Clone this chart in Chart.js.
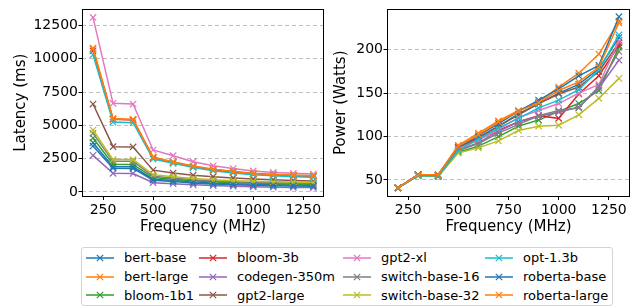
<!DOCTYPE html>
<html>
<head>
<meta charset="utf-8">
<script src="https://cdn.jsdelivr.net/npm/chart.js@4/dist/chart.umd.min.js"></script>
<style>
  body { margin: 0; width: 636px; height: 308px; background: #fff; position: relative; overflow: hidden; font-family: "DejaVu Sans", sans-serif; }
  #grafico-latencia { position: absolute; left: 0; top: 0; }
  #grafico-potencia { position: absolute; left: 330px; top: 0; }
  #legenda { position: absolute; left: 81px; top: 247px; width: 530px; height: 57px; border: 1px solid #d4d4d4; border-radius: 3px; }
  .item { position: absolute; height: 18px; display: flex; align-items: center; font-size: 13px; color: #000; white-space: nowrap; }
  .item svg { margin-right: 10px; }
</style>
</head>
<body>
<canvas id="grafico-latencia" width="330" height="240"></canvas>
<canvas id="grafico-potencia" width="306" height="240"></canvas>
<div id="legenda"></div>
<script>
const frequencias = [200, 300, 400, 500, 600, 700, 800, 900, 1000, 1100, 1200, 1300];
const modelos = ["bert-base", "bert-large", "bloom-1b1", "bloom-3b", "codegen-350m", "gpt2-large",
  "gpt2-xl", "switch-base-16", "switch-base-32", "opt-1.3b", "roberta-base", "roberta-large"];
const cores = ["#1f77b4", "#ff7f0e", "#2ca02c", "#d62728", "#9467bd", "#8c564b",
  "#e377c2", "#7f7f7f", "#bcbd22", "#17becf", "#1f77b4", "#ff7f0e"];

// Latência (ms)
const latBertBase = [3700, 1900, 1890, 960, 860, 760, 680, 620, 570, 540, 520, 500];
const latBertLarge = [10800, 5500, 5450, 2620, 2260, 1950, 1710, 1540, 1400, 1320, 1260, 1220];
const latBloom1b1 = [4050, 2080, 2070, 1080, 960, 840, 760, 700, 650, 620, 600, 580];
const latBloom3b = [10600, 5450, 5400, 2570, 2220, 1900, 1670, 1500, 1360, 1280, 1220, 1180];
const latCodegen = [2750, 1400, 1390, 700, 620, 540, 480, 430, 390, 360, 340, 330];
const latGpt2Large = [6600, 3400, 3380, 1640, 1420, 1260, 1150, 1050, 980, 920, 870, 820];
const latGpt2Xl = [13100, 6650, 6600, 3150, 2720, 2270, 1960, 1760, 1580, 1470, 1400, 1340];
const latSwitch16 = [4400, 2300, 2300, 1180, 1050, 920, 830, 770, 720, 690, 670, 650];
const latSwitch32 = [4650, 2430, 2430, 1300, 1150, 1010, 920, 850, 800, 760, 740, 720];
const latOpt = [10300, 5250, 5200, 2470, 2150, 1830, 1600, 1430, 1300, 1220, 1150, 1100];
const latRobertaBase = [3450, 1780, 1770, 880, 780, 680, 600, 540, 500, 470, 450, 430];
const latRobertaLarge = [10750, 5480, 5430, 2600, 2240, 1930, 1700, 1530, 1390, 1310, 1250, 1210];

// Potência (Watts)
const potBertBase = [41, 56, 55, 86, 98, 112, 126, 138, 150, 160, 178, 214];
const potBertLarge = [41, 56, 56, 90, 104, 118, 130, 140, 157, 173, 195, 233];
const potBloom1b1 = [41, 55, 54, 82, 89, 100, 112, 119, 129, 138, 153, 203];
const potBloom3b = [41, 56, 55, 87, 97, 107, 117, 124, 121, 149, 170, 205];
const potCodegen = [41, 56, 55, 84, 93, 106, 117, 123, 128, 134, 156, 188];
const potGpt2Large = [41, 56, 56, 88, 99, 112, 125, 138, 149, 157, 175, 208];
const potGpt2Xl = [41, 56, 55, 86, 96, 108, 122, 130, 138, 150, 160, 210];
const potSwitch16 = [41, 56, 55, 84, 92, 104, 114, 124, 130, 133, 158, 198];
const potSwitch32 = [41, 55, 55, 81, 87, 95, 107, 112, 113, 125, 144, 167];
const potOpt = [41, 55, 55, 84, 97, 110, 121, 133, 142, 154, 177, 217];
const potRobertaBase = [41, 56, 56, 88, 101, 115, 129, 142, 155, 170, 182, 238];
const potRobertaLarge = [41, 56, 56, 89, 102, 117, 129, 139, 153, 163, 180, 231];

const ticksX = [250, 500, 750, 1000, 1250];
const ticksLatencia = [0, 2500, 5000, 7500, 10000, 12500];
const ticksPotencia = [50, 100, 150, 200];

const latencias = [latBertBase, latBertLarge, latBloom1b1, latBloom3b, latCodegen, latGpt2Large,
  latGpt2Xl, latSwitch16, latSwitch32, latOpt, latRobertaBase, latRobertaLarge];
const potencias = [potBertBase, potBertLarge, potBloom1b1, potBloom3b, potCodegen, potGpt2Large,
  potGpt2Xl, potSwitch16, potSwitch32, potOpt, potRobertaBase, potRobertaLarge];

const FONTE = "'DejaVu Sans', sans-serif";

// moldura completa em volta da área do gráfico (como no matplotlib)
const moldura = {
  id: "moldura",
  afterDatasetsDraw(chart) {
    const { ctx, chartArea: a } = chart;
    ctx.save();
    ctx.strokeStyle = "#000";
    ctx.lineWidth = 1;
    ctx.strokeRect(Math.round(a.left) + 0.5, Math.round(a.top) + 0.5,
      Math.round(a.right - a.left) - 1, Math.round(a.bottom - a.top) - 1);
    ctx.restore();
  }
};

function criarGrafico(id, series, ticksY, minY, maxY, tituloY, larguraY, padTitulo, padDireita) {
  return new Chart(document.getElementById(id), {
    type: "line",
    data: {
      datasets: modelos.map((nome, i) => ({
        label: nome,
        data: frequencias.map((f, j) => ({ x: f, y: series[i][j] })),
        borderColor: cores[i],
        backgroundColor: cores[i],
        borderWidth: 1.5,
        pointStyle: "crossRot",
        pointRadius: 4.5,
        pointBorderWidth: 1.2,
        pointHoverRadius: 4.5,
        tension: 0,
        clip: 8,
        order: modelos.length - i
      }))
    },
    options: {
      responsive: false,
      animation: false,
      events: [],
      layout: { padding: { top: 2, right: padDireita, left: 0, bottom: 0 } },
      plugins: { legend: { display: false }, tooltip: { enabled: false } },
      scales: {
        x: {
          type: "linear", min: 145, max: 1355,
          afterBuildTicks: s => { s.ticks = ticksX.map(v => ({ value: v })); },
          afterFit: s => { s.height = 43.5; },
          grid: { drawOnChartArea: false, drawTicks: true, tickLength: 3.5, tickColor: "#000", tickWidth: 1 },
          border: { display: false },
          ticks: { color: "#000", font: { family: FONTE, size: 14 }, padding: 1.5, maxRotation: 0, autoSkip: false,
            callback: v => String(v) },
          title: { display: true, text: "Frequency (MHz)", color: "#000", font: { family: FONTE, size: 15 }, padding: { top: 0, bottom: 4 } }
        },
        y: {
          type: "linear", min: minY, max: maxY,
          afterBuildTicks: s => { s.ticks = ticksY.map(v => ({ value: v })); },
          afterFit: s => { s.width = larguraY; },
          grid: { color: "rgba(0,0,0,0.25)", lineWidth: 1, drawTicks: true, tickLength: 3.5, tickColor: "#000", tickWidth: 1 },
          border: { display: false, dash: [4, 3] },
          ticks: { color: "#000", font: { family: FONTE, size: 14 }, padding: 0.5, autoSkip: false,
            callback: v => String(v) },
          title: { display: true, text: tituloY, color: "#000", font: { family: FONTE, size: 15 }, padding: { top: padTitulo, bottom: 0 } }
        }
      }
    },
    plugins: [moldura]
  });
}

function montarLegenda() {
  const legenda = document.getElementById("legenda");
  const colunas = [4, 117, 261, 403];
  modelos.forEach((nome, i) => {
    const col = Math.floor(i / 3), lin = i % 3;
    const item = document.createElement("div");
    item.className = "item";
    item.style.left = colunas[col] + "px";
    item.style.top = (0.7 + lin * 18.8) + "px";
    item.innerHTML = `<svg width="28" height="10"><line x1="0" y1="5" x2="28" y2="5" stroke="${cores[i]}" stroke-width="1.5"/>` +
      `<line x1="10.8" y1="1.8" x2="17.2" y2="8.2" stroke="${cores[i]}" stroke-width="1.2"/>` +
      `<line x1="10.8" y1="8.2" x2="17.2" y2="1.8" stroke="${cores[i]}" stroke-width="1.2"/></svg><span>${nome}</span>`;
    legenda.appendChild(item);
  });
}

criarGrafico("grafico-latencia", latencias, ticksLatencia, -340, 13740, "Latency (ms)", 82, 12, 4);
criarGrafico("grafico-potencia", potencias, ticksPotencia, 31, 247, "Power (Watts)", 57, 2.5, 6);
montarLegenda();
</script>
</body>
</html>
